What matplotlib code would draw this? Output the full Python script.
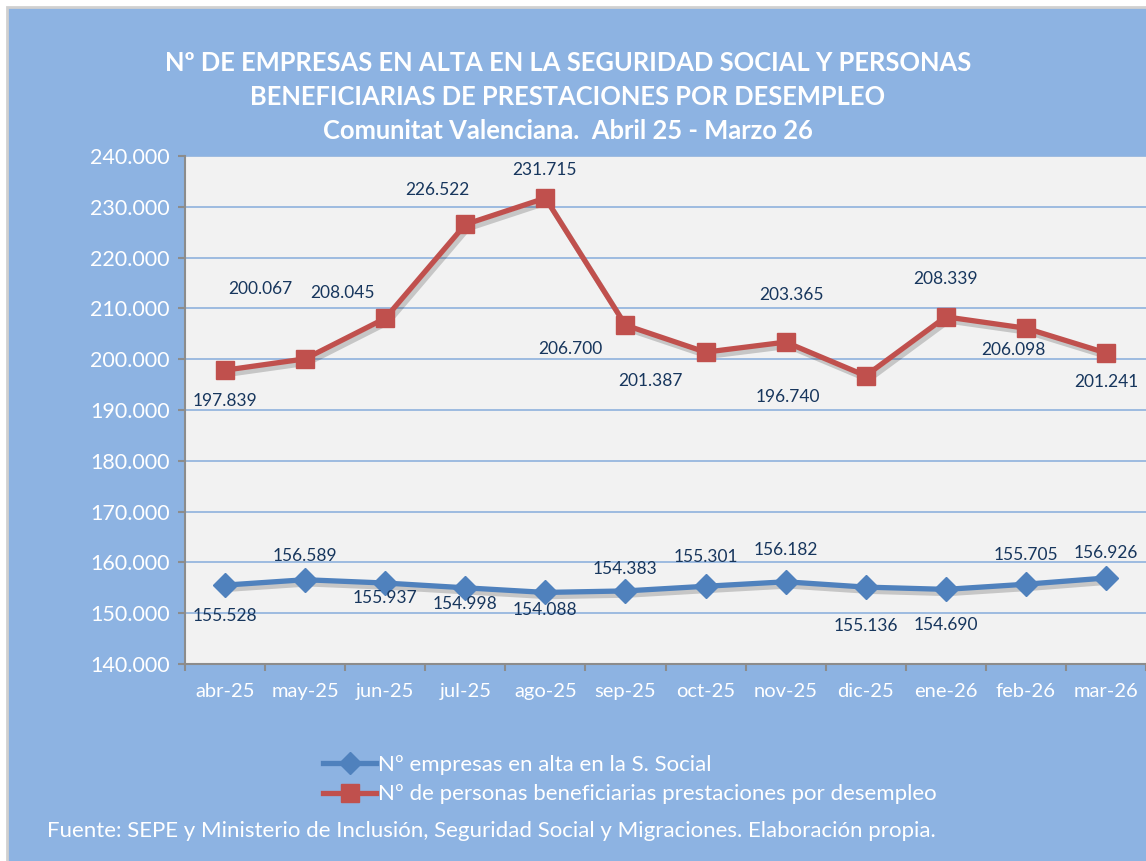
import matplotlib
matplotlib.use("Agg")
import matplotlib.pyplot as plt
import matplotlib.patheffects as pe
from matplotlib.patches import Rectangle
from matplotlib.lines import Line2D

months = ["abr-25", "may-25", "jun-25", "jul-25", "ago-25", "sep-25",
          "oct-25", "nov-25", "dic-25", "ene-26", "feb-26", "mar-26"]
empresas = [155528, 156589, 155937, 154998, 154088, 154383,
            155301, 156182, 155136, 154690, 155705, 156926]
beneficiarios = [197839, 200067, 208045, 226522, 231715, 206700,
                 201387, 203365, 196740, 208339, 206098, 201241]
yticks = [140000, 150000, 160000, 170000, 180000, 190000,
          200000, 210000, 220000, 230000, 240000]

title = ("Nº DE EMPRESAS EN ALTA EN LA SEGURIDAD SOCIAL Y PERSONAS\n"
         "BENEFICIARIAS DE PRESTACIONES POR DESEMPLEO\n"
         "Comunitat Valenciana.  Abril 25 - Marzo 26")
leg1 = "Nº empresas en alta en la S. Social"
leg2 = "Nº de personas beneficiarias prestaciones por desempleo"
source = "Fuente: SEPE y Ministerio de Inclusión, Seguridad Social y Migraciones. Elaboración propia."

# label offsets (points) for data labels
off_emp = [(0, -22), (0, 17), (0, -11), (0, -12), (0, -13), (0, 16),
           (0, 21), (0, 23), (0, -28), (0, -26), (0, 21), (0, 18)]
off_ben = [(0, -22), (-32, 50), (-31, 18), (-20, 25), (-1, 20), (-40, -17),
           (-40, -21), (4, 34), (-56, -15), (0, 27), (-9, -16), (0, -21)]

def fmt(v):
    return f"{v:,}".replace(",", ".")

plt.rcParams['font.family'] = ['Lato', 'DejaVu Sans']

W, H = 1146, 861
fig = plt.figure(figsize=(W / 100, H / 100), dpi=100)
fig.patch.set_facecolor("white")
bg = Rectangle((7 / W, -0.01), 1.0, 1 - 7 / H + 0.01, transform=fig.transFigure,
               facecolor="#8DB3E2", edgecolor="#D0D0D0", linewidth=2, zorder=-10)
fig.patches.append(bg)

ax = fig.add_axes([185 / W, 1 - 664 / H, 1 - 185 / W, (664 - 156) / H])
ax.set_zorder(5)
ax.set_facecolor("#F2F2F2")
x = list(range(len(months)))

shadow = [pe.SimpleLineShadow(offset=(2, -3), shadow_color="black", alpha=0.18)]
ax.plot(x, empresas, color="#4F81BD", lw=3.8, zorder=2, path_effects=shadow)
ax.plot(x, beneficiarios, color="#C0504D", lw=3.8, zorder=2, path_effects=shadow)
ax.plot(x, empresas, color="#4F81BD", lw=3.8, marker="D", ms=12,
        markeredgecolor="#4F81BD", zorder=3)
ax.plot(x, beneficiarios, color="#C0504D", lw=3.8, marker="s", ms=12.5,
        markeredgecolor="#C0504D", zorder=3)

for i, v in enumerate(empresas):
    ax.annotate(fmt(v), (i, v), xytext=off_emp[i], textcoords="offset points",
                ha="center", va="center", fontsize=12.5, color="#17365D", zorder=5)
for i, v in enumerate(beneficiarios):
    ax.annotate(fmt(v), (i, v), xytext=off_ben[i], textcoords="offset points",
                ha="center", va="center", fontsize=12.5, color="#17365D", zorder=5)

ax.set_xlim(-0.5, len(months) - 0.5)
ax.set_ylim(140000, 240000)
ax.set_yticks(yticks)
ax.set_yticklabels([fmt(v) for v in yticks], color="white", fontsize=15.5)
ax.set_xticks(x)
ax.set_xticklabels(months, color="white", fontsize=14.5)
ax.set_xticks([i - 0.5 for i in range(len(months) + 1)], minor=True)
ax.tick_params(axis="x", which="major", length=0, pad=14)
ax.tick_params(axis="x", which="minor", length=5, color="#8C8C8C", width=1.5, direction="out")
ax.tick_params(axis="y", length=5, color="#8C8C8C", width=1.5, pad=6)
ax.grid(axis="y", color="#9DBBE0", lw=1.4, zorder=1)
ax.set_axisbelow(True)
for s in ["top", "right"]:
    ax.spines[s].set_visible(False)
for s in ["left", "bottom"]:
    ax.spines[s].set_color("#8C8C8C")
    ax.spines[s].set_linewidth(1.5)

fig.text(568 / W, 1 - 97 / H, title, ha="center", va="center", color="white",
         fontsize=18.4, fontweight="bold", linespacing=1.5)

handles = [Line2D([], [], color="#4F81BD", lw=3.8, marker="D", ms=11),
           Line2D([], [], color="#C0504D", lw=3.8, marker="s", ms=12.5)]
leg = fig.legend(handles, [leg1, leg2], loc="upper left",
                 bbox_to_anchor=(312 / W, 1 - 744 / H), frameon=False,
                 fontsize=16, labelcolor="white", handlelength=2.4,
                 handletextpad=0.05, labelspacing=0.42, borderpad=0)

fig.text(47 / W, 1 - 831 / H, source, ha="left", va="center", color="white", fontsize=16)

fig.savefig("out.png", dpi=100)
